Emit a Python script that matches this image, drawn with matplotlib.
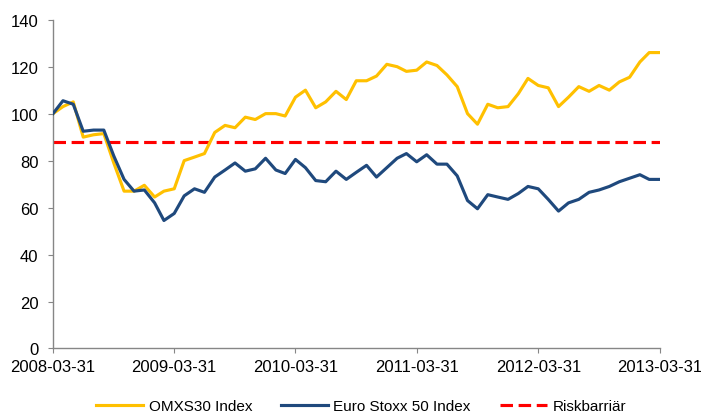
import numpy as np
import pandas as pd
import matplotlib
matplotlib.use("Agg")
import matplotlib.pyplot as plt
import matplotlib.dates as mdates

# monthly index values, 2008-03-31 .. 2013-03-31 (start = 100)
dates = pd.date_range("2008-03-31", "2013-03-31", freq="ME")

omxs30 = [100, 103, 105, 90, 91, 91.5, 79, 67, 67, 69.5,
          64.5, 67, 68, 80, 81.5, 83, 92, 95, 94, 98.5,
          97.5, 100, 100, 99, 107, 110, 102.5, 105, 109.5, 106,
          114, 114, 116, 121, 120, 118, 118.5, 122, 120.5, 116.5,
          111.5, 100, 95.5, 104, 102.5, 103, 108.5, 115, 112, 111,
          103, 107, 111.5, 109.5, 112, 110, 113.5, 115.5, 122, 126,
          126]

stoxx50 = [100, 105.5, 104, 92.5, 93, 93, 82, 72, 67, 67.5,
           62, 54.5, 57.5, 65, 68, 66.5, 73, 76, 79, 75.5,
           76.5, 81, 76, 74.5, 80.5, 77, 71.5, 71, 75.5, 72,
           75, 78, 73, 77, 81, 83, 79.5, 82.5, 78.5, 78.5,
           73.5, 63, 59.5, 65.5, 64.5, 63.5, 66, 69, 68, 63.5,
           58.5, 62, 63.5, 66.5, 67.5, 69, 71, 72.5, 74, 72,
           72]

riskbarriar = 88
tick_dates = pd.to_datetime(["2008-03-31", "2009-03-31", "2010-03-31",
                             "2011-03-31", "2012-03-31", "2013-03-31"])

plt.rcParams['font.family'] = ['Liberation Sans', 'DejaVu Sans']

fig = plt.figure(figsize=(7.01, 4.14), dpi=100)
ax = fig.add_axes([0.0756, 0.1558, 0.8652, 0.7942])

ax.plot(dates, omxs30, color='#FFC000', lw=2.25, label='OMXS30 Index', zorder=3)
ax.plot(dates, stoxx50, color='#1F497D', lw=2.25, label='Euro Stoxx 50 Index', zorder=4)
ax.plot([dates[0], dates[-1]], [riskbarriar, riskbarriar], color='#FF0000',
        lw=2.25, ls=(0, (4.0, 1.8)), label='Riskbarriär', zorder=2)

ax.set_xlim(dates[0], dates[-1])
ax.set_ylim(0, 140)
ax.set_yticks(np.arange(0, 141, 20))
ax.set_xticks(tick_dates)
ax.xaxis.set_major_formatter(mdates.DateFormatter('%Y-%m-%d'))

for side in ['top', 'right']:
    ax.spines[side].set_visible(False)
for side in ['left', 'bottom']:
    ax.spines[side].set_color('#868686')
    ax.spines[side].set_linewidth(1.0)

ax.tick_params(axis='both', direction='out', length=3.6, color='#868686',
               labelsize=12, labelcolor='black')
ax.tick_params(axis='x', pad=4)
ax.tick_params(axis='y', pad=7)

fig.legend(*ax.get_legend_handles_labels(), loc='center',
           bbox_to_anchor=(0.515, 0.016), ncol=3, frameon=False,
           fontsize=11, handlelength=3.1, handletextpad=0.33,
           columnspacing=1.9, borderpad=0, borderaxespad=0)

plt.savefig('out.png', dpi=100, facecolor='white')
plt.close()
